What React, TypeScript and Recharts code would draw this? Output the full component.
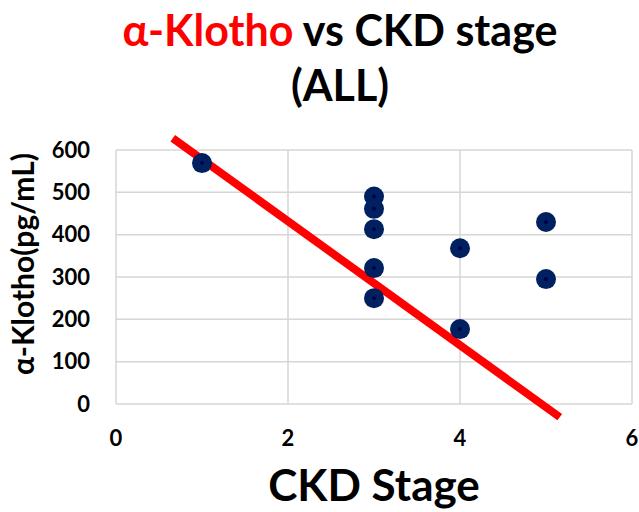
import React from "react";
import {
  ScatterChart,
  Scatter,
  XAxis,
  YAxis,
  CartesianGrid,
  ReferenceLine,
} from "recharts";

// CKD stage of each patient and its alpha-Klotho value (pg/mL)
const stages = [1, 3, 3, 3, 3, 3, 4, 4, 5, 5];
const klotho = [569, 490, 461, 413, 321, 250, 368, 177, 430, 295];

// ends of the trend line, as drawn in the source
const trendStart = { x: 0.66, y: 628 };
const trendEnd = { x: 5.16, y: -31 };

const xTicks = [0, 2, 4, 6];
const yTicks = [0, 100, 200, 300, 400, 500, 600];

const FONT = "Lato, 'Open Sans', sans-serif";
const NAVY = "#002060";

const points = stages.map((s, i) => ({ stage: s, value: klotho[i] }));

function Dot(props: any) {
  const { cx, cy } = props;
  return (
    <g>
      <circle cx={cx} cy={cy} r={10} fill={NAVY} />
      <circle cx={cx} cy={cy} r={2} fill="#000050" />
    </g>
  );
}

function YTitle(props: any) {
  const { viewBox } = props;
  const cx = viewBox.x + 22;
  const cy = viewBox.y + viewBox.height / 2 - 13;
  return (
    <text
      x={cx}
      y={cy}
      transform={`rotate(-90 ${cx} ${cy})`}
      textAnchor="middle"
      dominantBaseline="central"
      fontFamily={FONT}
      fontWeight="bold"
      fontSize={30}
      fill="#000"
    >
      α-Klotho(pg/mL)
    </text>
  );
}

export default function App() {
  return (
    <div style={{ position: "absolute", left: 0, top: 0, width: 639, height: 512, background: "#fff" }}>
      <div
        style={{
          position: "absolute",
          left: 0,
          top: 2,
          width: 680,
          textAlign: "center",
          fontFamily: FONT,
          fontWeight: "bold",
          fontSize: 43,
          lineHeight: "55px",
          color: "#000",
        }}
      >
        <span style={{ color: "#ff0000" }}>α-Klotho</span> vs CKD stage
        <br />
        (ALL)
      </div>
      <ScatterChart
        width={639}
        height={512}
        margin={{ top: 150, right: 7, bottom: 0, left: 0 }}
      >
        <CartesianGrid stroke="#d6d6d6" strokeWidth={1.5} />
        <XAxis
          type="number"
          dataKey="stage"
          domain={[0, 6]}
          ticks={xTicks}
          interval={0}
          axisLine={false}
          tickLine={false}
          tickSize={0}
          tickMargin={26}
          height={108}
          tick={{ fill: "#000", fontSize: 22, fontWeight: "bold", fontFamily: FONT }}
          label={{
            value: "CKD Stage",
            position: "insideBottom",
            offset: 11,
            fill: "#000",
            fontSize: 44,
            fontWeight: "bold",
            fontFamily: FONT,
          }}
        />
        <YAxis
          type="number"
          dataKey="value"
          domain={[0, 600]}
          ticks={yTicks}
          interval={0}
          axisLine={false}
          tickLine={false}
          tickSize={0}
          tickMargin={26}
          width={116}
          tick={{ fill: "#000", fontSize: 22, fontWeight: "bold", fontFamily: FONT }}
          label={<YTitle />}
        />
        <Scatter data={points} shape={<Dot />} isAnimationActive={false} />
        <ReferenceLine
          segment={[trendStart, trendEnd]}
          stroke="#ff0000"
          strokeWidth={8}
          ifOverflow="visible"
        />
      </ScatterChart>
    </div>
  );
}
